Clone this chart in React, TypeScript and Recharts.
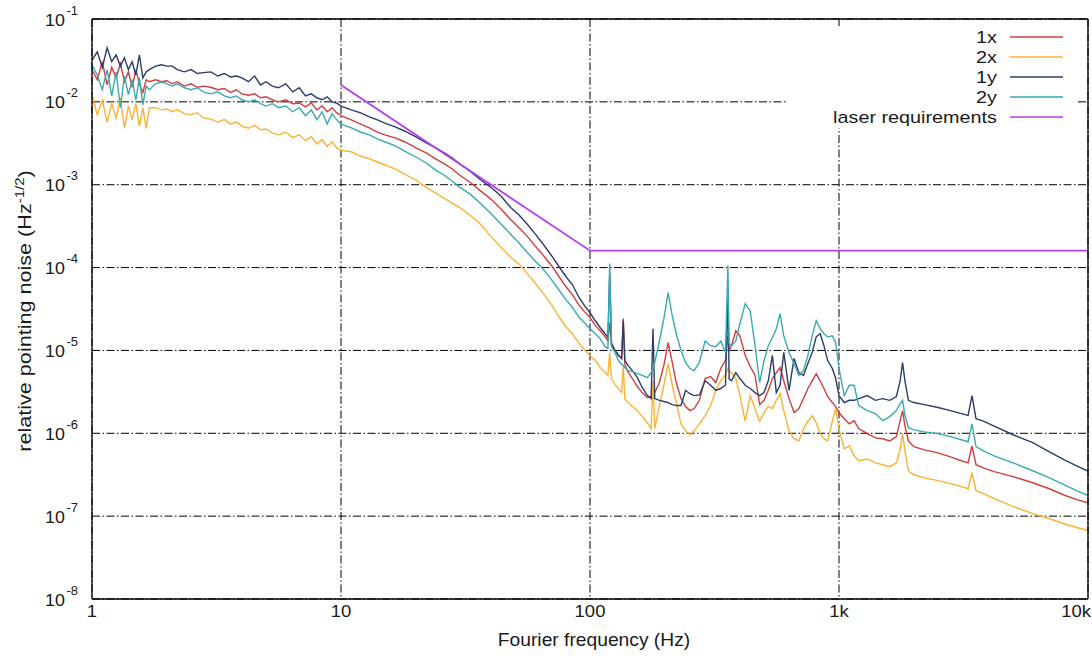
import React from 'react';
import { LineChart, Line, XAxis, YAxis, CartesianGrid } from 'recharts';

const FONT = '"Liberation Sans", Arial, Helvetica, sans-serif';
const INK = '#1a1a1a';

// Fourier frequency grid (Hz) shared by the four spectra
const freq = [
  // 1 - 10 Hz
  1, 1.05, 1.1, 1.15, 1.2,
  1.25, 1.3, 1.35, 1.4, 1.45,
  1.5, 1.55, 1.6, 1.65, 1.7,
  1.8, 1.9, 2, 2.1, 2.2,
  2.35, 2.5, 2.65, 2.8, 3,
  3.2, 3.4, 3.6, 3.8, 4,
  4.25, 4.5, 4.75, 5, 5.3,
  5.6, 6, 6.4, 6.8, 7.2,
  7.6, 8, 8.4, 8.8, 9.2,
  9.6, 10,
  // 10 - 100 Hz
  11, 12, 13, 14, 15,
  16.5, 18, 20, 22, 24,
  26, 28, 30, 33, 36,
  40, 44, 48, 52, 56,
  60, 65, 70, 75, 80,
  85, 90, 95, 100,
  // 100 Hz - 1 kHz
  105, 110, 115, 118, 120,
  122, 126, 130, 134, 136,
  138, 142, 148, 155, 162,
  170, 176, 179, 182, 190,
  198, 206, 214, 222, 232,
  242, 252, 262, 275, 290,
  305, 320, 335, 350, 358,
  362, 370, 385, 400, 420,
  440, 460, 480, 500, 520,
  540, 560, 580, 600, 630,
  660, 690, 720, 750, 780,
  810, 840, 870, 900, 940,
  970, 1000,
  // 1 - 10 kHz
  1050, 1100, 1150, 1200, 1300,
  1400, 1500, 1600, 1700, 1760,
  1800, 1840, 1900, 2000, 2200,
  2500, 2800, 3100, 3300, 3420,
  3550, 3800, 4200, 5000, 6000,
  7000, 8000, 9000, 10000,
];

// relative pointing noise (Hz^-1/2)
const noise1x = [
  2.45e-2, 1.85e-2, 3.05e-2, 1.6e-2, 2.6e-2,
  1.95e-2, 2.9e-2, 1.75e-2, 2.3e-2, 1.5e-2,
  2.45e-2, 1.65e-2, 1.3e-2, 1.85e-2, 1.75e-2,
  1.85e-2, 1.75e-2, 1.8e-2, 1.65e-2, 1.75e-2,
  1.55e-2, 1.65e-2, 1.5e-2, 1.55e-2, 1.5e-2,
  1.4e-2, 1.45e-2, 1.3e-2, 1.4e-2, 1.25e-2,
  1.2e-2, 1.25e-2, 1.12e-2, 1.15e-2, 1.06e-2,
  1.0e-2, 1.06e-2, 9.5e-3, 9.7e-3, 8.7e-3,
  9.7e-3, 8.0e-3, 8.9e-3, 7.6e-3, 8.5e-3,
  7.4e-3, 6.8e-3,
  6.05e-3, 5.4e-3, 4.84e-3, 4.3e-3, 4.0e-3,
  3.67e-3, 3.3e-3, 2.78e-3, 2.42e-3, 2.05e-3,
  1.78e-3, 1.55e-3, 1.3e-3, 1.07e-3, 8.6e-4,
  6.7e-4, 5.05e-4, 3.8e-4, 3.0e-4, 2.38e-4,
  1.85e-4, 1.4e-4, 1.06e-4, 7.8e-5, 5.9e-5,
  4.7e-5, 3.57e-5, 2.94e-5, 2.5e-5,
  1.99e-5, 1.73e-5, 1.46e-5, 1.3e-5, 2.16e-5,
  1.14e-5, 1.0e-5, 8.9e-6, 8.0e-6, 2.42e-5,
  6.77e-6, 5.55e-6, 4.58e-6, 3.67e-6, 3.1e-6,
  2.7e-6, 2.78e-6, 3.1e-6, 3.1e-6, 4.1e-6,
  6.6e-6, 1.24e-5, 7.15e-6, 4.1e-6, 2.62e-6,
  2.1e-6, 1.88e-6, 1.99e-6, 2.5e-6, 4.58e-6,
  4.84e-6, 4.1e-6, 6.05e-6, 7.6e-6, 1.5e-5,
  1.0e-5, 1.14e-5, 1.73e-5, 1.5e-5, 8.7e-6,
  6.4e-6, 5.0e-6, 2.22e-6, 2.5e-6, 3.3e-6,
  4.58e-6, 5.4e-6, 6.2e-6, 4.3e-6, 2.62e-6,
  1.78e-6, 1.99e-6, 2.62e-6, 3.47e-6, 4.3e-6,
  5.25e-6, 4.3e-6, 3.47e-6, 2.78e-6, 2.35e-6,
  2.1e-6, 1.78e-6,
  1.5e-6, 1.3e-6, 1.42e-6, 1.14e-6, 9.9e-7,
  8.8e-7, 8.6e-7, 8.1e-7, 9.1e-7, 1.42e-6,
  1.88e-6, 1.23e-6, 8.1e-7, 6.9e-7, 6.3e-7,
  5.8e-7, 5.2e-7, 4.66e-7, 4.4e-7, 7.06e-7,
  4.17e-7, 3.83e-7, 3.44e-7, 3.0e-7, 2.53e-7,
  2.14e-7, 1.8e-7, 1.58e-7, 1.45e-7,
];

const noise2x = [
  1.22e-2, 7.0e-3, 1.06e-2, 5.7e-3, 9.5e-3,
  6.4e-3, 1.12e-2, 4.8e-3, 8.9e-3, 6.1e-3,
  9.5e-3, 5.1e-3, 8.5e-3, 4.8e-3, 8.5e-3,
  8.5e-3, 8.0e-3, 8.2e-3, 7.6e-3, 8.0e-3,
  7.2e-3, 7.0e-3, 7.4e-3, 6.4e-3, 6.2e-3,
  5.7e-3, 6.1e-3, 5.4e-3, 5.7e-3, 5.1e-3,
  4.8e-3, 5.2e-3, 4.6e-3, 4.7e-3, 4.2e-3,
  4.0e-3, 4.3e-3, 3.7e-3, 4.0e-3, 3.4e-3,
  3.8e-3, 3.1e-3, 3.5e-3, 2.9e-3, 3.3e-3,
  2.8e-3, 2.6e-3,
  2.5e-3, 2.22e-3, 2.05e-3, 1.88e-3, 1.73e-3,
  1.55e-3, 1.34e-3, 1.14e-3, 9.3e-4, 7.9e-4,
  6.85e-4, 5.95e-4, 5.3e-4, 4.27e-4, 3.43e-4,
  2.38e-4, 1.75e-4, 1.33e-4, 1.1e-4, 8.46e-5,
  6.6e-5, 4.84e-5, 3.57e-5, 2.55e-5, 1.93e-5,
  1.59e-5, 1.24e-5, 1.02e-5, 8.6e-6,
  7.6e-6, 6.2e-6, 5.4e-6, 5.0e-6, 9.46e-6,
  4.58e-6, 3.87e-6, 3.47e-6, 3.1e-6, 6.6e-6,
  2.62e-6, 2.35e-6, 2.1e-6, 1.88e-6, 1.59e-6,
  1.34e-6, 1.14e-6, 4.3e-6, 1.14e-6, 2.16e-6,
  3.8e-6, 6.95e-6, 3.8e-6, 2.35e-6, 1.3e-6,
  1.07e-6, 9.6e-7, 1.07e-6, 1.3e-6, 1.63e-6,
  2.16e-6, 3.3e-6, 4.3e-6, 5.1e-6, 6.05e-6,
  5.7e-6, 5.4e-6, 4.58e-6, 2.85e-6, 1.4e-6,
  2.85e-6, 1.99e-6, 1.4e-6, 1.78e-6, 2.1e-6,
  1.99e-6, 2.5e-6, 3.0e-6, 1.88e-6, 1.07e-6,
  8.6e-7, 8.1e-7, 1.14e-6, 1.4e-6, 1.63e-6,
  1.34e-6, 1.0e-6, 8.6e-7, 8.1e-7, 1.4e-6,
  1.99e-6, 1.14e-6,
  6.5e-7, 7.06e-7, 5.35e-7, 4.66e-7, 4.9e-7,
  4.4e-7, 4.17e-7, 3.95e-7, 4.4e-7, 6.5e-7,
  9.9e-7, 6.15e-7, 3.53e-7, 3.16e-7, 2.9e-7,
  2.68e-7, 2.47e-7, 2.27e-7, 2.14e-7, 3.34e-7,
  2.03e-7, 1.87e-7, 1.63e-7, 1.31e-7, 1.07e-7,
  9.3e-8, 8.1e-8, 7.3e-8, 6.7e-8,
];

const noise1y = [
  3.2e-2, 4.0e-2, 2.6e-2, 4.5e-2, 3.05e-2,
  3.7e-2, 2.7e-2, 3.4e-2, 2.45e-2, 3.05e-2,
  2.1e-2, 3.7e-2, 1.95e-2, 2.3e-2, 2.45e-2,
  2.7e-2, 2.8e-2, 2.7e-2, 2.7e-2, 2.45e-2,
  2.3e-2, 2.45e-2, 2.2e-2, 2.25e-2, 2.3e-2,
  2.05e-2, 2.2e-2, 2.0e-2, 2.05e-2, 1.95e-2,
  1.75e-2, 2.05e-2, 1.6e-2, 1.75e-2, 1.55e-2,
  1.48e-2, 1.65e-2, 1.32e-2, 1.48e-2, 1.18e-2,
  1.25e-2, 1.12e-2, 1.06e-2, 1.15e-2, 1.0e-2,
  9.7e-3, 8.9e-3,
  8.0e-3, 7.35e-3, 6.6e-3, 6.05e-3, 5.55e-3,
  5.0e-3, 4.45e-3, 3.77e-3, 3.2e-3, 2.78e-3,
  2.42e-3, 2.1e-3, 1.78e-3, 1.46e-3, 1.17e-3,
  9.3e-4, 7.25e-4, 5.3e-4, 4.27e-4, 3.33e-4,
  2.59e-4, 1.9e-4, 1.4e-4, 1.03e-4, 7.8e-5,
  6.2e-5, 4.45e-5, 3.47e-5, 2.85e-5,
  2.28e-5, 1.88e-5, 1.59e-5, 1.42e-5, 8.7e-5,
  1.24e-5, 1.0e-5, 8.7e-6, 8.0e-6, 2.28e-5,
  7.6e-6, 6.6e-6, 5.7e-6, 4.7e-6, 3.57e-6,
  2.85e-6, 2.62e-6, 1.83e-5, 2.62e-6, 2.5e-6,
  2.42e-6, 2.35e-6, 2.22e-6, 2.16e-6, 2.16e-6,
  3.3e-6, 3.0e-6, 2.85e-6, 2.9e-6, 4.3e-6,
  3.8e-6, 3.3e-6, 3.47e-6, 3.8e-6, 5.25e-5,
  4.5e-6, 4.3e-6, 5.4e-6, 4.58e-6, 3.8e-6,
  3.47e-6, 3.1e-6, 2.85e-6, 3.1e-6, 4.3e-6,
  8.7e-6, 3.1e-6, 3.8e-6, 9.46e-6, 3.3e-6,
  8.0e-6, 5.4e-6, 5.0e-6, 6.95e-6, 9.46e-6,
  1.46e-5, 1.59e-5, 1.14e-5, 7.6e-6, 6.05e-6,
  4.58e-6, 2.85e-6,
  2.35e-6, 2.5e-6, 2.5e-6, 2.62e-6, 2.85e-6,
  2.5e-6, 2.62e-6, 2.5e-6, 2.78e-6, 4.3e-6,
  7.15e-6, 4.3e-6, 2.5e-6, 2.35e-6, 2.22e-6,
  2.05e-6, 1.88e-6, 1.73e-6, 1.64e-6, 2.85e-6,
  1.5e-6, 1.4e-6, 1.22e-6, 9.6e-7, 7.7e-7,
  5.95e-7, 4.8e-7, 4.05e-7, 3.5e-7,
];

const noise2y = [
  2.8e-2, 2.1e-2, 1.4e-2, 2.45e-2, 1.18e-2,
  2.3e-2, 8.5e-3, 2.05e-2, 1.22e-2, 1.85e-2,
  1.06e-2, 1.95e-2, 9.2e-3, 1.55e-2, 1.4e-2,
  1.65e-2, 1.75e-2, 1.65e-2, 1.55e-2, 1.65e-2,
  1.48e-2, 1.4e-2, 1.48e-2, 1.32e-2, 1.25e-2,
  1.32e-2, 1.18e-2, 1.12e-2, 1.18e-2, 1.06e-2,
  1.0e-2, 1.06e-2, 9.5e-3, 8.9e-3, 9.5e-3,
  8.5e-3, 8.9e-3, 7.6e-3, 8.5e-3, 6.8e-3,
  8.0e-3, 6.1e-3, 7.6e-3, 5.4e-3, 7.2e-3,
  6.1e-3, 5.4e-3,
  4.84e-3, 4.3e-3, 4.0e-3, 3.57e-3, 3.3e-3,
  2.94e-3, 2.55e-3, 2.16e-3, 1.83e-3, 1.5e-3,
  1.3e-3, 1.1e-3, 9.3e-4, 7.7e-4, 6.1e-4,
  4.5e-4, 3.33e-4, 2.53e-4, 1.97e-4, 1.52e-4,
  1.22e-4, 9.5e-5, 7.15e-5, 5.4e-5, 4.1e-5,
  3.3e-5, 2.55e-5, 2.16e-5, 1.83e-5,
  1.59e-5, 1.38e-5, 1.11e-5, 1.05e-5, 1.12e-4,
  1.11e-5, 9.46e-6, 7.6e-6, 6.77e-6, 6.6e-6,
  6.2e-6, 5.7e-6, 5.55e-6, 5.25e-6, 5.0e-6,
  4.7e-6, 5.4e-6, 6.2e-6, 7.15e-6, 1.3e-5,
  2.42e-5, 5.0e-5, 2.62e-5, 1.59e-5, 1.0e-5,
  7.15e-6, 6.05e-6, 5.7e-6, 7.15e-6, 1.3e-5,
  1.14e-5, 1.11e-5, 1.3e-5, 9.46e-6, 1.06e-4,
  1.2e-5, 1.14e-5, 1.3e-5, 2.1e-5, 3.67e-5,
  3.0e-5, 1.14e-5, 4.1e-6, 7.6e-6, 1.14e-5,
  1.42e-5, 1.83e-5, 2.78e-5, 1.5e-5, 9.46e-6,
  6.95e-6, 5.0e-6, 5.7e-6, 8.7e-6, 1.5e-5,
  2.28e-5, 1.83e-5, 1.59e-5, 1.46e-5, 1.5e-5,
  1.24e-5, 6.05e-6,
  2.85e-6, 3.8e-6, 3.8e-6, 2.16e-6, 1.88e-6,
  1.73e-6, 1.42e-6, 1.59e-6, 1.88e-6, 2.28e-6,
  2.5e-6, 1.64e-6, 1.17e-6, 1.1e-6, 1.04e-6,
  9.9e-7, 9.1e-7, 8.35e-7, 7.9e-7, 1.3e-6,
  6.9e-7, 6.15e-7, 5.35e-7, 4.4e-7, 3.53e-7,
  2.9e-7, 2.4e-7, 2.03e-7, 1.77e-7,
];

// laser requirement: f^-2 down to 100 Hz, flat above
const laserFreq = [10, 100, 10000];
const laserLimit = [1.6e-2, 1.6e-4, 1.6e-4];

const xTicks = [1, 10, 100, 1000, 10000];
const xTickLabels = ['1', '10', '100', '1k', '10k'];
const yTicks = [1e-8, 1e-7, 1e-6, 1e-5, 1e-4, 1e-3, 1e-2, 1e-1];
const yTickExponents = ['-8', '-7', '-6', '-5', '-4', '-3', '-2', '-1'];
const minorSteps = [2, 3, 4, 5, 6, 7, 8, 9];

const xMinor = xTicks.slice(0, -1).flatMap((d) => minorSteps.map((m) => m * d));
const yMinor = yTicks.slice(0, -1).flatMap((d) => minorSteps.map((m) => m * d));

const series = [
  { key: 'n1x', name: '1x', color: '#d13f3f', values: noise1x },
  { key: 'n2x', name: '2x', color: '#fbb232', values: noise2x },
  { key: 'n1y', name: '1y', color: '#2c3d6d', values: noise1y },
  { key: 'n2y', name: '2y', color: '#3aaab0', values: noise2y },
];
const laser = { key: 'laser', name: 'laser requirements', color: '#b63ef2' };

const X_DOMAIN = [1, 10000];
const Y_DOMAIN = [1e-8, 1e-1];

// inward tick marks on all four sides (gnuplot style)
const tickAxes = [
  { id: 'xTop', side: 'top', ticks: xTicks, size: 8, line: true },
  { id: 'xTopMinor', side: 'top', ticks: xMinor, size: 4, line: false },
  { id: 'xBot', side: 'bottom', ticks: xTicks, size: 8, line: false },
  { id: 'xBotMinor', side: 'bottom', ticks: xMinor, size: 4, line: false },
  { id: 'yRight', side: 'right', ticks: yTicks, size: 8, line: true },
  { id: 'yRightMinor', side: 'right', ticks: yMinor, size: 4, line: false },
  { id: 'yLeft', side: 'left', ticks: yTicks, size: 8, line: false },
  { id: 'yLeftMinor', side: 'left', ticks: yMinor, size: 4, line: false },
];

function FreqTick(props: any) {
  const { x, y, payload } = props;
  const i = xTicks.findIndex((t) => Math.abs(t - payload.value) < t * 1e-6);
  const last = i === xTicks.length - 1;
  return (
    <text
      transform={`translate(${last ? x + 3 : x} ${y + 12}) scale(1.12 1)`}
      textAnchor={last ? 'end' : 'middle'}
      fontSize={16.5}
      fontFamily={FONT}
      fill={INK}
    >
      {xTickLabels[i]}
    </text>
  );
}

function NoiseTick(props: any) {
  const { x, y, payload } = props;
  const i = yTicks.findIndex((t) => Math.abs(t - payload.value) < t * 1e-6);
  return (
    <text
      transform={`translate(${x} ${y + 6.5}) scale(1.08 1)`}
      textAnchor="end"
      fontSize={16.5}
      fontFamily={FONT}
      fill={INK}
    >
      10
      <tspan dx={1.5} dy={-11} fontSize={12}>
        {yTickExponents[i]}
      </tspan>
    </text>
  );
}

function XTitle() {
  return (
    <text
      transform="translate(594 646) scale(1.1 1)"
      textAnchor="middle"
      fontSize={17.5}
      fontFamily={FONT}
      fill={INK}
    >
      Fourier frequency (Hz)
    </text>
  );
}

function YTitle() {
  return (
    <text
      transform="translate(31 311) rotate(-90) scale(1.2 1)"
      textAnchor="middle"
      fontSize={18}
      fontFamily={FONT}
      fill={INK}
    >
      relative pointing noise (Hz
      <tspan dy={-7} fontSize={12.5}>
        -1/2
      </tspan>
      <tspan dy={7}>)</tspan>
    </text>
  );
}

function KeyBox() {
  const entries = [...series, laser];
  return (
    <svg style={{ position: 'absolute', left: 786, top: 26 }} width={292} height={102}>
      <rect width={292} height={102} fill="#fff" />
      {entries.map((e, i) => {
        const cy = 11 + i * 20;
        return (
          <g key={e.key}>
            <text
              transform={`translate(211 ${cy + 6}) scale(1.2 1)`}
              textAnchor="end"
              fontSize={16.5}
              fontFamily={FONT}
              fill={INK}
            >
              {e.name}
            </text>
            <line x1={224} x2={277} y1={cy} y2={cy} stroke={e.color} strokeWidth={1.6} />
          </g>
        );
      })}
    </svg>
  );
}

export default function App() {
  const data = freq.map((f, i) => {
    const li = laserFreq.indexOf(f);
    return {
      f,
      n1x: noise1x[i],
      n2x: noise2x[i],
      n1y: noise1y[i],
      n2y: noise2y[i],
      laser: li >= 0 ? laserLimit[li] : null,
    };
  });

  return (
    <div
      style={{
        position: 'absolute',
        left: 0,
        top: 0,
        width: 1092,
        height: 662,
        background: '#fff',
        fontFamily: FONT,
      }}
    >
      <LineChart width={1092} height={662} data={data} margin={{ top: 19, right: 4, bottom: 0, left: 0 }}>
        <CartesianGrid stroke="#000" strokeWidth={1} strokeDasharray="8 2.5 1.5 2.5" />
        <XAxis
          dataKey="f"
          type="number"
          scale="log"
          domain={X_DOMAIN}
          allowDataOverflow
          ticks={xTicks}
          interval={0}
          height={63}
          tickLine={false}
          tickSize={0}
          tickMargin={6}
          axisLine={{ stroke: '#000', strokeWidth: 1.3 }}
          tick={<FreqTick />}
          label={{ content: () => <XTitle /> }}
        />
        <YAxis
          type="number"
          scale="log"
          domain={Y_DOMAIN}
          allowDataOverflow
          ticks={yTicks}
          interval={0}
          width={92}
          tickLine={false}
          tickSize={0}
          tickMargin={14}
          axisLine={{ stroke: '#000', strokeWidth: 1.3 }}
          tick={<NoiseTick />}
          label={{ content: () => <YTitle /> }}
        />
        {tickAxes
          .filter((a) => a.side === 'top' || a.side === 'bottom')
          .map((a) => (
            <XAxis
              key={a.id}
              xAxisId={a.id}
              orientation={a.side as 'top' | 'bottom'}
              mirror
              type="number"
              scale="log"
              domain={X_DOMAIN}
              allowDataOverflow
              ticks={a.ticks}
              interval={0}
              tick={false}
              tickSize={a.size}
              tickLine={{ stroke: '#000', strokeWidth: 1 }}
              axisLine={a.line ? { stroke: '#000', strokeWidth: 1.3 } : false}
            />
          ))}
        {tickAxes
          .filter((a) => a.side === 'left' || a.side === 'right')
          .map((a) => (
            <YAxis
              key={a.id}
              yAxisId={a.id}
              orientation={a.side as 'left' | 'right'}
              mirror
              type="number"
              scale="log"
              domain={Y_DOMAIN}
              allowDataOverflow
              ticks={a.ticks}
              interval={0}
              tick={false}
              tickSize={a.size}
              tickLine={{ stroke: '#000', strokeWidth: 1 }}
              axisLine={a.line ? { stroke: '#000', strokeWidth: 1.3 } : false}
            />
          ))}
        {series.map((s) => (
          <Line
            key={s.key}
            type="linear"
            dataKey={s.key}
            name={s.name}
            stroke={s.color}
            strokeWidth={1.4}
            dot={false}
            activeDot={false}
            isAnimationActive={false}
          />
        ))}
        <Line
          type="linear"
          dataKey={laser.key}
          name={laser.name}
          stroke={laser.color}
          strokeWidth={1.8}
          dot={false}
          activeDot={false}
          connectNulls
          isAnimationActive={false}
        />
      </LineChart>
      <KeyBox />
    </div>
  );
}
